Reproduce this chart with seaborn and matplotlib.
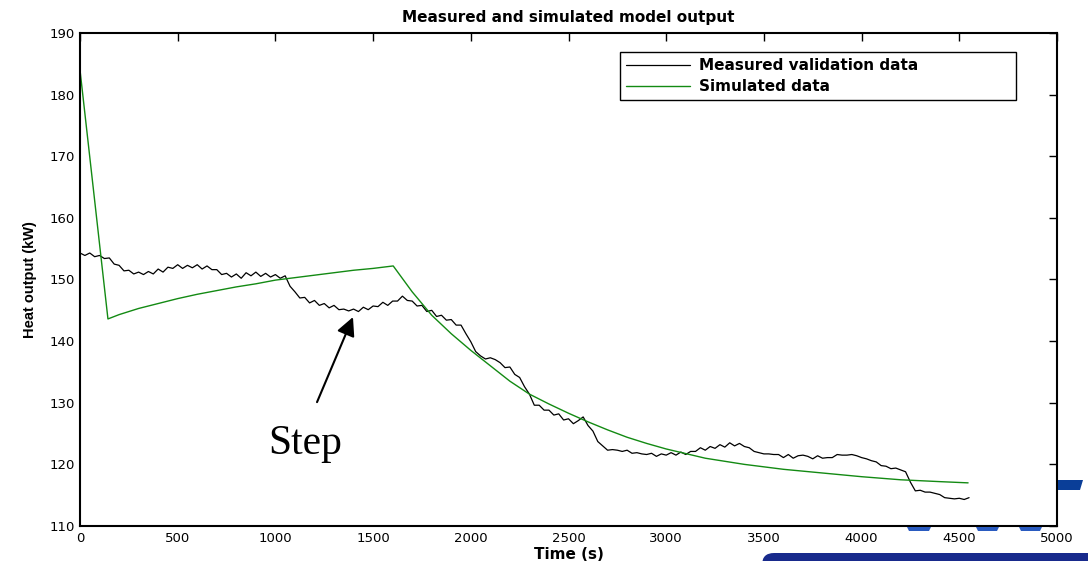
import numpy as np
import pandas as pd
import seaborn as sns
import matplotlib
matplotlib.use("Agg")
import matplotlib.pyplot as plt
from matplotlib.patches import FancyBboxPatch, Polygon
from matplotlib.transforms import IdentityTransform

# ---------------- data ----------------
meas_time = list(range(0, 4551, 25))
meas_value = [
    154.3, 153.9, 154.3, 153.7, 153.9, 153.4, 153.5, 152.5, 152.3, 151.4,   # 0-225
    151.5, 150.9, 151.2, 150.8, 151.3, 150.9, 151.7, 151.2, 152.0, 151.8,   # 250-475
    152.4, 151.8, 152.3, 151.9, 152.4, 151.7, 152.2, 151.6, 151.6, 150.8,   # 500-725
    151.0, 150.4, 150.9, 150.2, 151.1, 150.6, 151.2, 150.5, 151.0, 150.4,   # 750-975
    150.8, 150.2, 150.6, 148.9, 148.0, 147.0, 147.1, 146.2, 146.6, 145.8,   # 1000-1225
    146.1, 145.4, 145.8, 145.1, 145.2, 144.9, 145.2, 144.8, 145.5, 145.1,   # 1250-1475
    145.7, 145.6, 146.3, 145.8, 146.5, 146.5, 147.3, 146.6, 146.5, 145.7,   # 1500-1725
    145.8, 144.8, 145.0, 144.0, 144.2, 143.4, 143.5, 142.6, 142.6, 141.2,   # 1750-1975
    139.9, 138.3, 137.6, 137.1, 137.3, 137.0, 136.5, 135.7, 135.8, 134.6,   # 2000-2225
    134.1, 132.6, 131.4, 129.6, 129.6, 128.8, 128.8, 128.0, 128.2, 127.2,   # 2250-2475
    127.4, 126.6, 127.1, 127.7, 126.3, 125.4, 123.7, 123.0, 122.3, 122.4,   # 2500-2725
    122.3, 122.1, 122.3, 121.8, 121.9, 121.7, 121.6, 121.8, 121.3, 121.7,   # 2750-2975
    121.5, 121.9, 121.5, 122.0, 121.6, 122.1, 122.1, 122.7, 122.3, 122.9,   # 3000-3225
    122.6, 123.2, 122.8, 123.5, 123.0, 123.4, 122.9, 122.7, 122.1, 121.9,   # 3250-3475
    121.7, 121.7, 121.6, 121.6, 121.1, 121.6, 121.0, 121.4, 121.5, 121.3,   # 3500-3725
    120.9, 121.4, 121.0, 121.1, 121.1, 121.6, 121.5, 121.5, 121.6, 121.4,   # 3750-3975
    121.1, 120.9, 120.6, 120.4, 119.8, 119.7, 119.3, 119.4, 119.1, 118.8,   # 4000-4225
    117.1, 115.7, 115.8, 115.5, 115.5, 115.3, 115.1, 114.6, 114.5, 114.4,   # 4250-4475
    114.5, 114.3, 114.6,                                                    # 4500-4550
]

sim_time = [0, 143, 200, 300, 400, 500, 600, 700, 800, 900, 1000, 1100, 1200,
            1300, 1400, 1500, 1603, 1700, 1800, 1900, 2000, 2100, 2200, 2300,
            2400, 2500, 2600, 2700, 2800, 2900, 3000, 3200, 3400, 3600, 3800,
            4000, 4200, 4400, 4545]
sim_value = [184.0, 143.6, 144.3, 145.3, 146.1, 146.9, 147.6, 148.2, 148.8,
             149.3, 149.9, 150.3, 150.7, 151.1, 151.5, 151.8, 152.2, 148.0,
             144.2, 141.2, 138.5, 136.0, 133.5, 131.4, 129.8, 128.3, 126.9,
             125.6, 124.4, 123.4, 122.5, 121.0, 120.0, 119.2, 118.6, 118.0,
             117.5, 117.2, 117.0]

x_ticks = [0, 500, 1000, 1500, 2000, 2500, 3000, 3500, 4000, 4500, 5000]
y_ticks = [110, 120, 130, 140, 150, 160, 170, 180, 190]

title = "Measured and simulated model output"
x_label = "Time (s)"
y_label = "Heat output (kW)"
label_meas = "Measured validation data"
label_sim = "Simulated data"
annot_text = "Step"

# ---------------- plot ----------------
sns.set_style("white")
plt.rcParams["font.family"] = ["DejaVu Sans"]
plt.rcParams["text.color"] = "black"
plt.rcParams["axes.labelcolor"] = "black"
plt.rcParams["xtick.color"] = "black"
plt.rcParams["ytick.color"] = "black"

fig = plt.figure(figsize=(10.88, 5.61), dpi=100)
ax = fig.add_axes([80 / 1088, 1 - 526 / 561, 977 / 1088, 493 / 561])

df_meas = pd.DataFrame({"t": meas_time, "v": meas_value})
df_sim = pd.DataFrame({"t": sim_time, "v": sim_value})

sns.lineplot(data=df_meas, x="t", y="v", ax=ax, color="black", lw=0.9,
             label=label_meas, estimator=None, sort=False)
sns.lineplot(data=df_sim, x="t", y="v", ax=ax, color="#138a13", lw=1.0,
             label=label_sim, estimator=None, sort=False)

ax.set_xlim(0, 5000)
ax.set_ylim(110, 190)
ax.set_xticks(x_ticks)
ax.set_yticks(y_ticks)
ax.tick_params(direction="in", top=True, right=True, length=6, width=1,
               labelsize=9.5, pad=4, colors="black")
for s in ax.spines.values():
    s.set_visible(True)
    s.set_color("black")
    s.set_linewidth(1.5)

ax.set_title(title, fontsize=11, fontweight="bold", pad=8, color="black")
ax.set_xlabel(x_label, fontsize=11, fontweight="bold", labelpad=2)
ax.set_ylabel(y_label, fontsize=10.5, fontweight="bold", labelpad=9,
              family="Liberation Sans")

leg = ax.legend(loc="upper left",
                bbox_to_anchor=(540 / 977, (526 - 103) / 493, 396 / 977, 51 / 493),
                mode="expand", borderaxespad=0, frameon=True, fancybox=False,
                edgecolor="black", framealpha=1, handlelength=4.2,
                handletextpad=0.55, labelspacing=0.4, borderpad=0.4,
                prop={"weight": "bold", "size": 11})
leg.get_frame().set_linewidth(1.0)
for t in leg.get_texts():
    t.set_color("black")

ax.annotate("", xy=(1397, 143.9), xytext=(1213, 130.1),
            arrowprops=dict(arrowstyle="-|>", color="black", lw=1.5,
                            mutation_scale=28, shrinkA=0, shrinkB=0))
ax.text(1151, 123.4, annot_text, fontsize=30, family="Liberation Serif",
        ha="center", va="center", color="black")

# slide decoration shapes (blue), in pixel coordinates (origin bottom-left)
H = 561
ident = IdentityTransform()
fig.patches.append(FancyBboxPatch((762, -12), 340, 20,
                                  boxstyle="round,pad=0,rounding_size=12",
                                  transform=ident, facecolor="#182a8c",
                                  edgecolor="none"))
fig.patches.append(Polygon([(1058, H - 480), (1083, H - 480), (1080, H - 490),
                            (1058, H - 490)], closed=True, transform=ident,
                           facecolor="#0a3e98", edgecolor="none"))
for x0, x1 in [(907, 931), (976, 999), (1019, 1042)]:
    fig.patches.append(Polygon([(x0, H - 527), (x1, H - 527), (x1 - 2, H - 531),
                                (x0 + 2, H - 531)], closed=True, transform=ident,
                               facecolor="#2a5bc0", edgecolor="none"))

fig.savefig("out.png", dpi=100)
